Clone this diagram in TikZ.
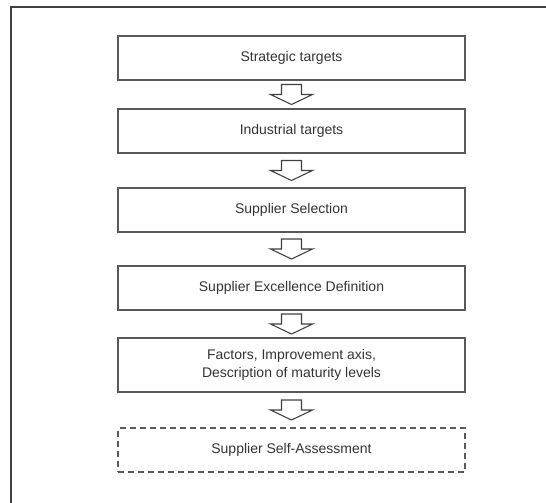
\documentclass[tikz,border=0pt]{standalone}
\usepackage{fontspec}
\setmainfont{Liberation Sans}
\usetikzlibrary{calc}
\tikzset{
  stage/.style={draw=black!65,line width=1.1pt,minimum width=260pt,minimum height=33pt,
    align=center,text=black!80,font=\fontsize{10.5}{14}\selectfont},
  hollowarrow/.style={draw=black!75,line width=0.8pt,fill=white,line join=miter}
}
\begin{document}
\begin{tikzpicture}[x=0.75pt,y=-0.75pt]
\useasboundingbox (0,0) rectangle (546,503);
\draw[black!75,line width=1.1pt] (11,503)--(11,7)--(546,7);
\node[stage] (st) at (291.5,58) {Strategic targets};
\node[stage] (it) at (291.5,131) {Industrial targets};
\node[stage] (ss) at (291.5,210) {Supplier Selection};
\node[stage] (sed) at (291.5,288) {Supplier Excellence Definition};
\node[stage,minimum height=40.5pt] (fac) at (291.5,365) {Factors, Improvement axis,\\Description of maturity levels};
\node[stage,dashed,dash pattern=on 4.5pt off 3pt] (ssa) at (291.5,450) {Supplier Self-Assessment};
\foreach \a/\b in {st/it,it/ss,ss/sed,sed/fac,fac/ssa}{
  \coordinate (m) at ($(\a.south)!0.5!(\b.north)$);
  \draw[hollowarrow] ($(m)+(-10,-10)$)--($(m)+(10,-10)$)--($(m)+(10,0)$)--($(m)+(21,0)$)
    --($(m)+(0,10)$)--($(m)+(-21,0)$)--($(m)+(-10,0)$)--cycle;
}
\end{tikzpicture}
\end{document}
